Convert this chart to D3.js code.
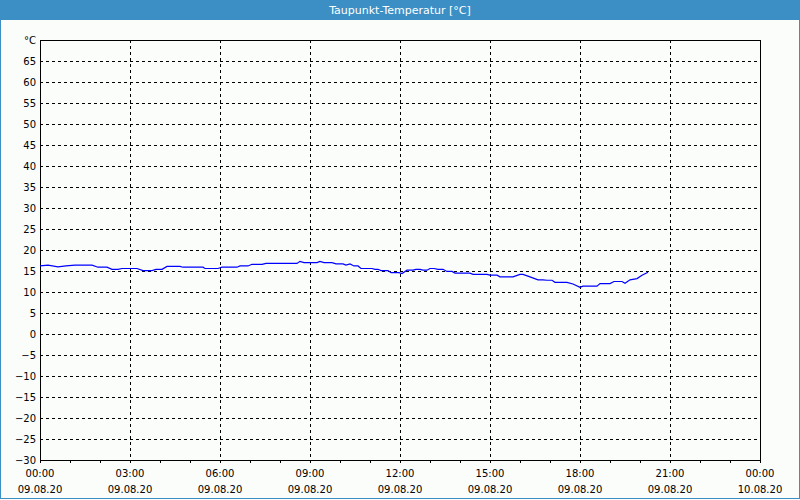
<!DOCTYPE html>
<html>
<head>
<meta charset="utf-8">
<script src="https://cdn.jsdelivr.net/npm/d3@7"></script>
<style>
html,body{margin:0;padding:0;background:#fbfdfb;}
svg{display:block;}
text{font-family:"DejaVu Sans",Tahoma,sans-serif;}
</style>
</head>
<body>
<svg id="chart" width="800" height="500"></svg>
<script>
const title = "Taupunkt-Temperatur [°C]";
const unitLabel = "°C";
const times = ["00:00","00:16","00:36","00:52","01:10","01:44","01:56","02:14","02:24","02:36","02:44","03:14","03:26","03:44","03:52","04:04","04:14","04:40","04:46","05:26","05:30","05:56","06:04","06:34","06:40","06:56","07:04","07:24","07:32","08:34","08:40","08:48","09:14","09:20","09:28","09:44","09:52","10:06","10:12","10:20","10:28","10:36","10:42","11:04","11:10","11:16","11:22","11:36","11:42","11:58","12:04","12:14","12:26","12:32","12:40","12:46","12:54","13:00","13:08","13:16","13:26","13:34","13:44","13:50","14:20","14:26","14:54","15:00","15:14","15:20","15:46","16:00","16:06","16:20","16:36","16:46","16:54","17:04","17:10","17:34","17:46","18:00","18:06","18:34","18:40","19:00","19:08","19:24","19:30","19:40","19:54","20:04","20:16"];
const values = [16.2,16.4,16.0,16.2,16.4,16.4,15.9,15.9,15.4,15.4,15.6,15.6,15.1,15.1,15.4,15.4,16.1,16.1,15.9,15.9,15.6,15.6,15.9,15.9,16.2,16.2,16.6,16.6,16.8,16.8,17.3,17.0,17.0,17.3,17.0,17.0,16.7,16.7,16.4,16.7,16.2,16.2,15.6,15.6,15.4,15.4,15.1,15.1,14.6,14.6,14.4,15.2,15.2,15.4,15.4,15.2,15.2,15.6,15.6,15.4,15.4,14.9,14.9,14.5,14.5,14.2,14.2,14.0,14.0,13.6,13.6,14.2,14.2,13.6,12.9,12.9,12.8,12.8,12.3,12.3,11.9,11.1,11.4,11.4,12.0,12.0,12.5,12.5,12.1,12.9,13.2,14.0,14.7];
const yTicks = [-30,-25,-20,-15,-10,-5,0,5,10,15,20,25,30,35,40,45,50,55,60,65];
const xTickTimes = ["09.08.20 00:00","09.08.20 03:00","09.08.20 06:00","09.08.20 09:00","09.08.20 12:00","09.08.20 15:00","09.08.20 18:00","09.08.20 21:00","10.08.20 00:00"];

const parseT = d3.timeParse("%d.%m.%y %H:%M");
const day = "09.08.20 ";
const data = times.map((t,i)=>({t:parseT(day+t), v:values[i]}));
const xTicks = xTickTimes.map(parseT);

const W=800,H=500;
const m={l:40,r:40,t:40,b:40};
const svg=d3.select("#chart");
svg.append("rect").attr("x",0).attr("y",0).attr("width",W).attr("height",H).attr("fill","#fbfdfb");
// frame
svg.append("rect").attr("x",0.5).attr("y",0.5).attr("width",W-1).attr("height",H-2)
  .attr("fill","none").attr("stroke","#3c8fc5").attr("stroke-width",1);
svg.append("rect").attr("x",0).attr("y",0).attr("width",W).attr("height",20).attr("fill","#3c8fc5");
svg.append("text").attr("x",W/2).attr("y",14).attr("text-anchor","middle")
  .attr("fill","#ffffff").attr("font-size",11).text(title);

const x=d3.scaleTime().domain([xTicks[0],xTicks[xTicks.length-1]]).range([m.l,W-m.r]);
const y=d3.scaleLinear().domain([-30,70]).range([H-m.b,m.t]);

const g=svg.append("g");
// horizontal grid
g.append("g").selectAll("line").data(yTicks.filter(d=>d>-30)).join("line")
  .attr("x1",m.l).attr("x2",W-m.r)
  .attr("y1",d=>Math.round(y(d))+0.5).attr("y2",d=>Math.round(y(d))+0.5)
  .attr("stroke","#000").attr("stroke-dasharray","3,3").attr("shape-rendering","crispEdges");
// vertical grid
g.append("g").selectAll("line").data(xTicks.slice(1,-1)).join("line")
  .attr("y1",m.t).attr("y2",H-m.b)
  .attr("x1",d=>Math.round(x(d))+0.5).attr("x2",d=>Math.round(x(d))+0.5)
  .attr("stroke","#000").attr("stroke-dasharray","3,3").attr("shape-rendering","crispEdges");

// hourly minor ticks on bottom axis
const xAxis=d3.axisBottom(x).ticks(d3.timeHour.every(1)).tickSize(3).tickFormat("");
const xa=svg.append("g").attr("transform",`translate(0,${H-m.b})`).call(xAxis);
xa.select(".domain").remove();
xa.selectAll("line").attr("stroke","#000").attr("shape-rendering","crispEdges");

// y labels
const yAxis=d3.axisLeft(y).tickValues(yTicks).tickSize(0).tickPadding(4).tickFormat(d3.format("d"));
const ya=svg.append("g").attr("transform",`translate(${m.l},0)`).call(yAxis);
ya.select(".domain").remove();
ya.selectAll("text").attr("font-size",10).attr("fill","#000").attr("font-family","DejaVu Sans");
svg.append("text").attr("x",m.l-4).attr("y",y(70)+4).attr("text-anchor","end")
  .attr("font-size",10).attr("fill","#000").text(unitLabel);

// x labels (time and date)
const fTime=d3.timeFormat("%H:%M"), fDate=d3.timeFormat("%d.%m.%y");
const xl=svg.append("g");
xl.selectAll("text.t").data(xTicks).join("text").attr("class","t")
  .attr("x",d=>x(d)).attr("y",477).attr("text-anchor","middle").attr("font-size",10).attr("fill","#000").text(fTime);
xl.selectAll("text.d").data(xTicks).join("text").attr("class","d")
  .attr("x",d=>x(d)).attr("y",493).attr("text-anchor","middle").attr("font-size",10).attr("fill","#000").text(fDate);

// plot border
svg.append("rect").attr("x",m.l+0.5).attr("y",m.t+0.5).attr("width",W-m.l-m.r).attr("height",H-m.t-m.b)
  .attr("fill","none").attr("stroke","#000").attr("shape-rendering","crispEdges");

// data line
const line=d3.line().x(d=>x(d.t)).y(d=>y(d.v));
svg.append("path").datum(data).attr("d",line).attr("fill","none").attr("stroke","#0000ff").attr("stroke-width",1.2);
</script>
</body>
</html>
